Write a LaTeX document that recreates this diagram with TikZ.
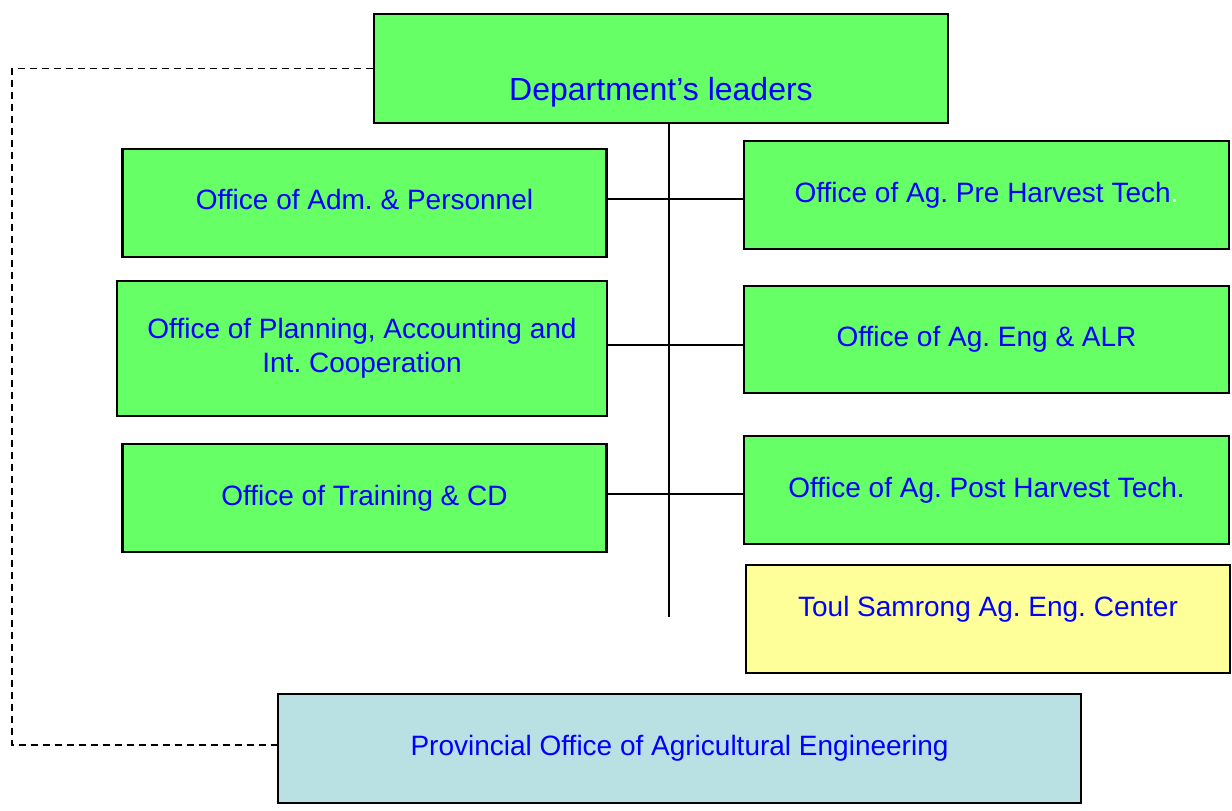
\documentclass[tikz,border=0pt]{standalone}
\usepackage{fontspec}
\setmainfont{Liberation Sans}
\frenchspacing
\usetikzlibrary{positioning}
\definecolor{office_green}{HTML}{66FF66}
\definecolor{center_yellow}{HTML}{FFFF99}
\definecolor{province_blue}{HTML}{B9E0E3}
\definecolor{label_blue}{HTML}{0000FF}
\tikzset{
        unitbox/.style={align=center, draw=black, line width=1.2pt, inner sep=2pt, text=label_blue,
                font=\fontsize{14}{17}\selectfont},
        % Leaders box
        node_leaders/.style={unitbox, fill=office_green, minimum width=287pt, minimum height=54.5pt,
                font=\fontsize{16}{19}\selectfont, text height=35pt, text depth=3pt},
        % Offices
        node_office/.style={unitbox, fill=office_green, minimum width=242pt, minimum height=54pt},
        % Center
        node_center/.style={unitbox, fill=center_yellow, minimum width=242pt, minimum height=54pt,
                text height=10pt, text depth=13pt},
        % Provincial office
        node_province/.style={unitbox, fill=province_blue, minimum width=401.5pt, minimum height=54.5pt},
        % Links
        link_solid/.style={draw=black, line width=0.8pt},
        link_dashed/.style={draw=black, line width=0.8pt, dash pattern=on 3.5pt off 2.5pt}
}
\begin{document}
\begin{tikzpicture}[x=0.5pt, y=-0.5pt]
    \useasboundingbox (0,0) rectangle (1232,810);
    \node[node_leaders] (leaders) at (661,68.5) {Department’s leaders};
    \node[node_office, text height=10pt, text depth=4pt] (adm) at (364.5,203) {Office of Adm. \& Personnel};
    \node[node_office, minimum width=245pt, minimum height=67.5pt] (planning) at (362,348.5)
        {Office of Planning, Accounting and\\Int. Cooperation};
    \node[node_office] (training) at (364.5,498) {Office of Training \& CD};
    \node[node_office, minimum width=242.5pt] (pre_harvest) at (986.5,195)
        {Office of Ag. Pre Harvest Tech\textcolor{white}{.}};
    \node[node_office, minimum width=242.5pt, minimum height=53.5pt] (eng) at (986.5,339.5)
        {Office of Ag. Eng \& ALR};
    \node[node_office, minimum width=242.5pt] (post_harvest) at (986.5,490)
        {Office of Ag. Post Harvest Tech.};
    \node[node_center] (toul_samrong) at (988,619) {Toul Samrong Ag. Eng. Center};
    \node[node_province] (provincial) at (679.5,748.5) {Provincial Office of Agricultural Engineering};

    % Trunk and branches
    \coordinate (trunk_end) at (669,617);
    \coordinate (row_1) at (669,199);
    \coordinate (row_2) at (669,345);
    \coordinate (row_3) at (669,494);
    \draw[link_solid] (leaders.south -| trunk_end) -- (trunk_end);
    \draw[link_solid] (row_1 -| adm.east) -- (row_1 -| pre_harvest.west);
    \draw[link_solid] (row_2 -| planning.east) -- (row_2 -| eng.west);
    \draw[link_solid] (row_3 -| training.east) -- (row_3 -| post_harvest.west);

    % Dashed link
    \coordinate (dash_corner) at (12,745);
    \draw[link_dashed] (leaders.west) -| (dash_corner) -- ([xshift=2.5pt]dash_corner -| provincial.west);
\end{tikzpicture}
\end{document}
